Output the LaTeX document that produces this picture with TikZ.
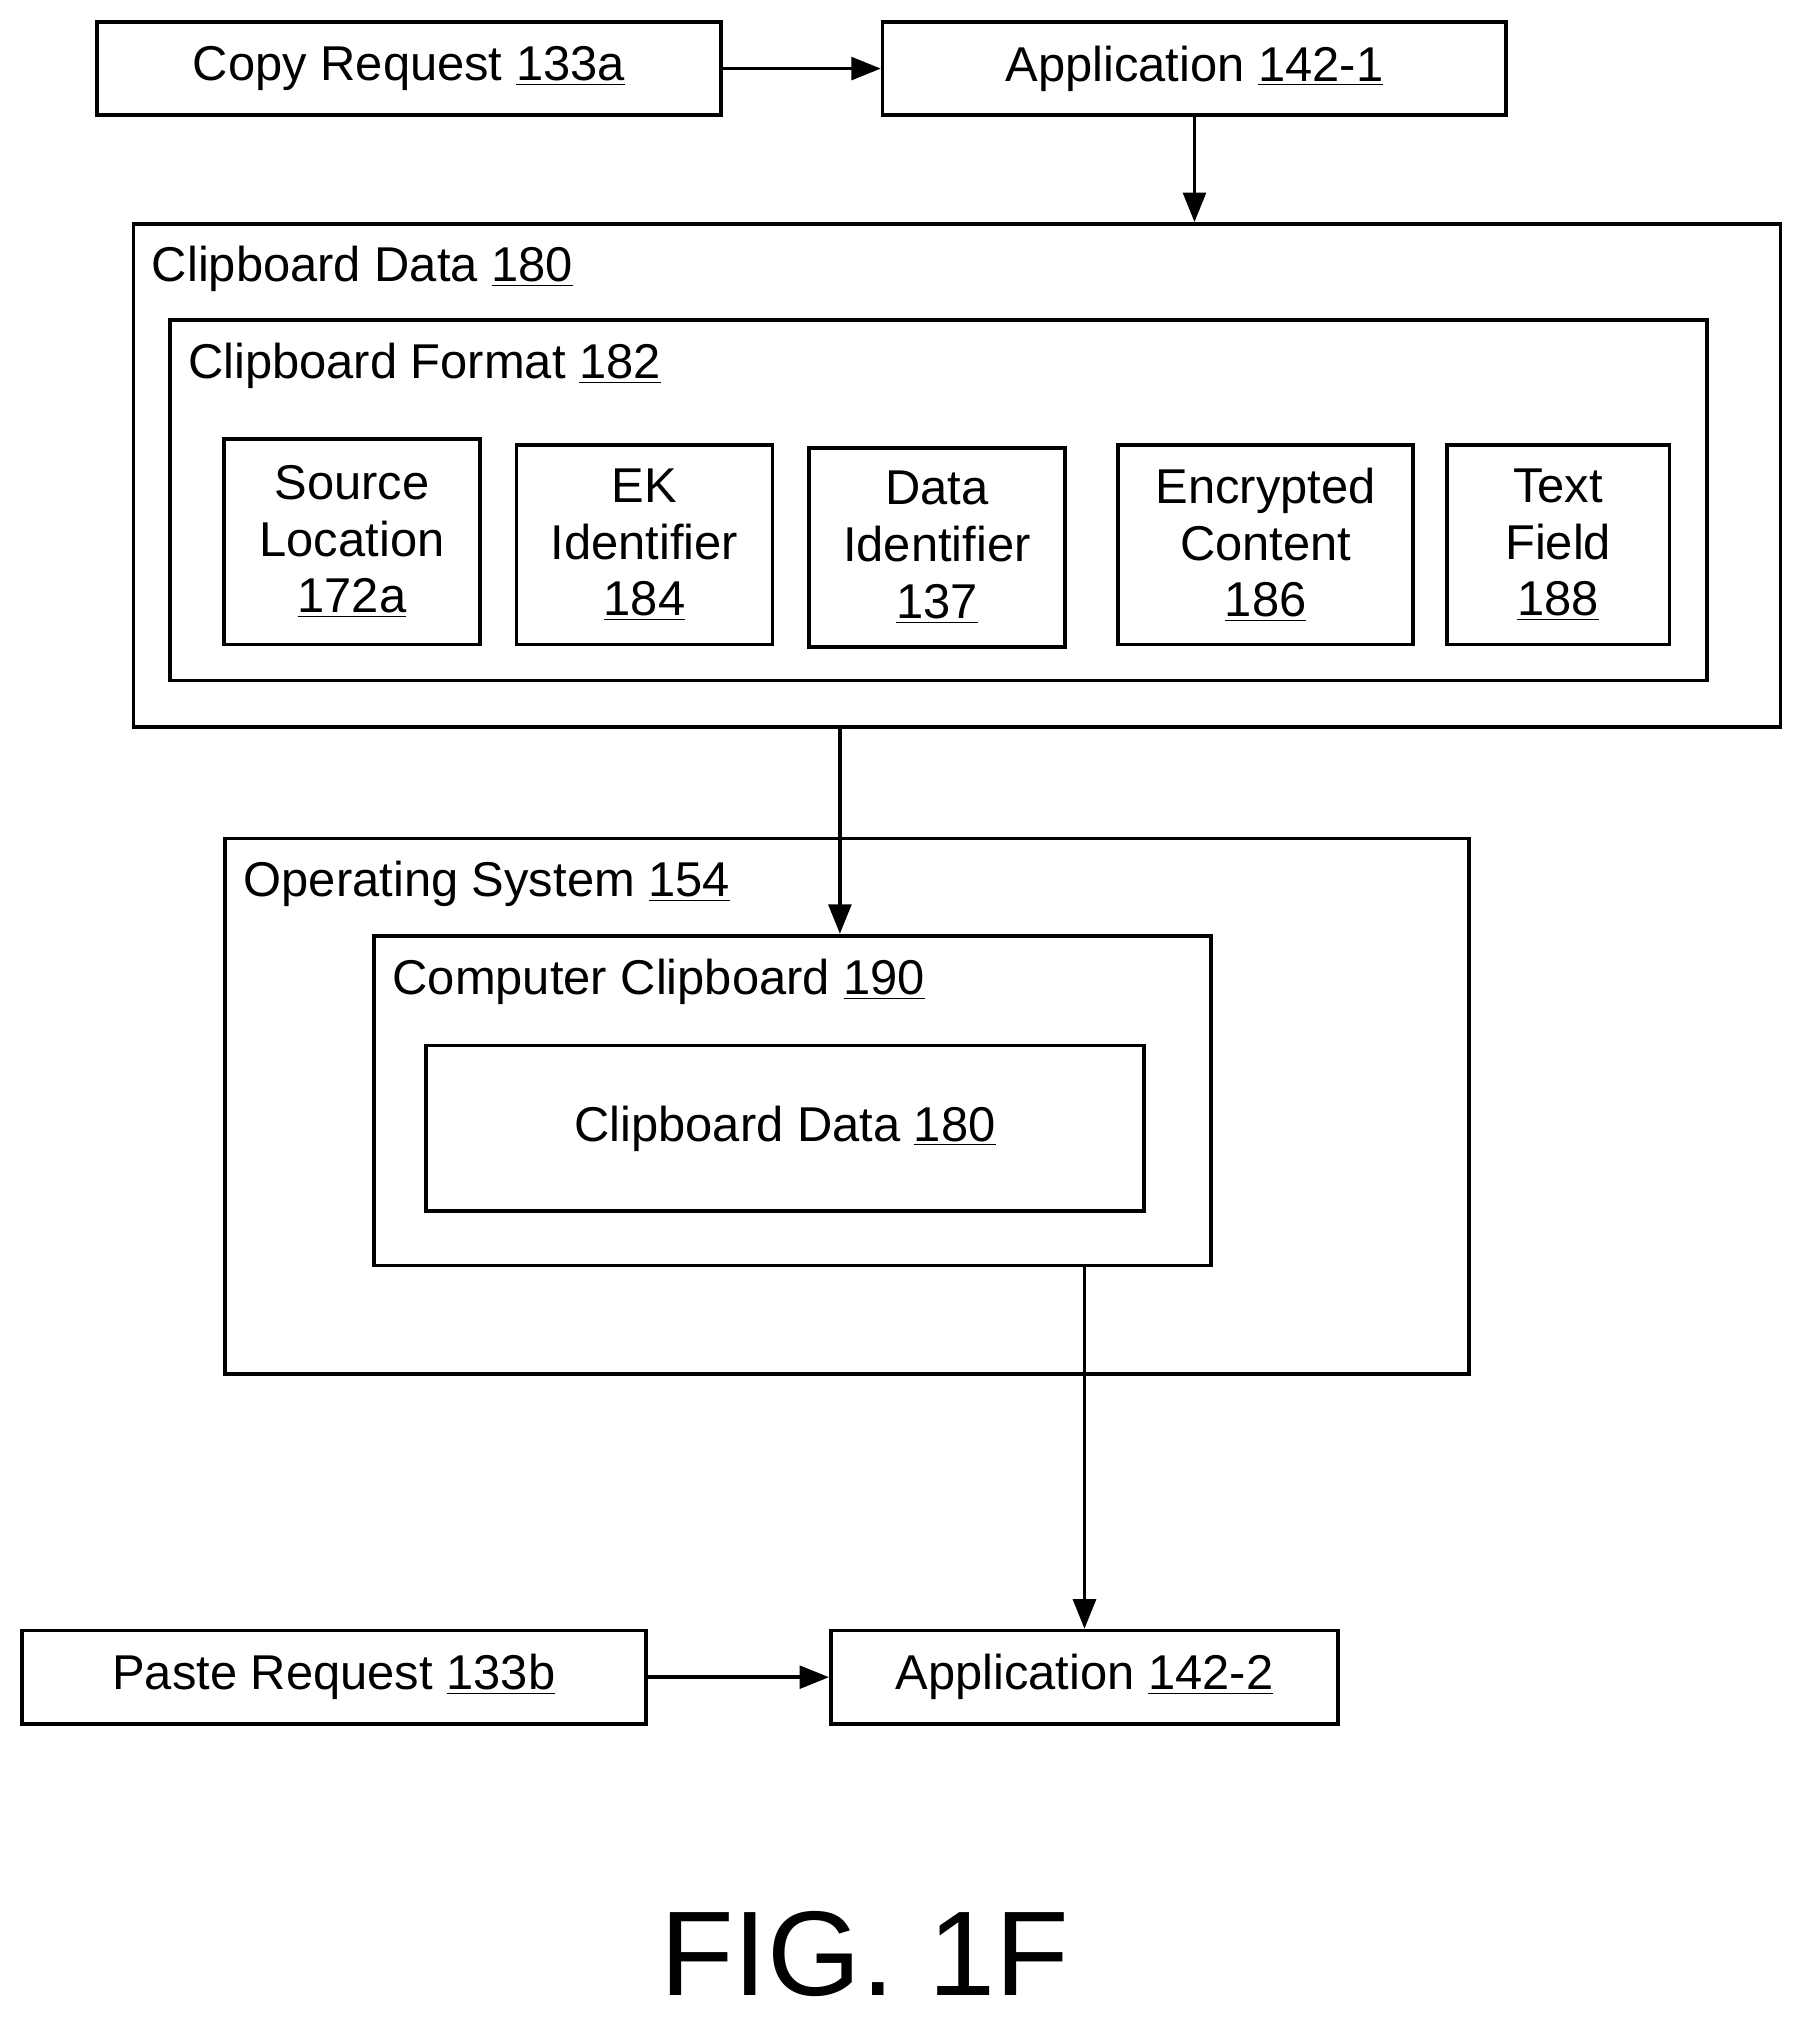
\documentclass[tikz,border=0pt]{standalone}
\usepackage{fontspec}
\setmainfont{Liberation Sans}
\usetikzlibrary{arrows.meta, positioning}
\newcommand{\refnum}[1]{\underline{#1}}
\begin{document}
\begin{tikzpicture}[x=0.02cm, y=-0.02cm,
    box/.style={rectangle, draw, line width=1.6pt, inner sep=0pt, font=\fontsize{21.5}{24}\selectfont},
    field/.style={box, align=center, font=\fontsize{21.5}{25}\selectfont},
    title/.style={anchor=north west, inner sep=0pt, font=\fontsize{21.5}{24}\selectfont},
    arr/.style={line width=1.6pt, -{Triangle[length=13pt, width=10pt]}}
  ]
  \useasboundingbox (0,0) rectangle (1390,1564);
  % Requests and applications
  \node[box, minimum width=9.64cm, minimum height=1.44cm] (copy) at (316,53) {Copy Request \refnum{133a}};
  \node[box, minimum width=9.64cm, minimum height=1.44cm] (app1) at (923,53) {Application \refnum{142-1}};
  \node[box, minimum width=9.64cm, minimum height=1.44cm] (paste) at (258,1296) {Paste Request \refnum{133b}};
  \node[box, minimum width=7.84cm, minimum height=1.44cm] (app2) at (838,1296) {Application \refnum{142-2}};

  % Clipboard data
  \node[box, minimum width=25.46cm, minimum height=7.78cm] (cbdata) at (739.5,367.5) {};
  \node[title] (cbdatal) at (117,190) {Clipboard Data \refnum{180}};
  \node[box, minimum width=23.76cm, minimum height=5.58cm] (cbfmt) at (725,386.5) {};
  \node[title] (cbfmtl) at (145,265) {Clipboard Format \refnum{182}};

  % Fields
  \node[field, minimum width=3.96cm, minimum height=3.18cm] (src) at (272,418.5) {Source\\Location\\\refnum{172a}};
  \node[field, minimum width=3.96cm, minimum height=3.08cm] (ek) at (498,421) {EK\\Identifier\\\refnum{184}};
  \node[field, minimum width=3.96cm, minimum height=3.08cm] (did) at (724,423) {Data\\Identifier\\\refnum{137}};
  \node[field, minimum width=4.56cm, minimum height=3.08cm] (enc) at (978,421) {Encrypted\\Content\\\refnum{186}};
  \node[field, minimum width=3.44cm, minimum height=3.08cm] (txt) at (1204,421) {Text\\Field\\\refnum{188}};

  % Operating system
  \node[box, minimum width=19.22cm, minimum height=8.28cm] (os) at (654.5,855) {};
  \node[title] (osl) at (188,665) {Operating System \refnum{154}};
  \node[box, minimum width=12.94cm, minimum height=5.10cm] (ccb) at (612.5,850.5) {};
  \node[title] (ccbl) at (303,741) {Computer Clipboard \refnum{190}};
  \node[box, minimum width=11.10cm, minimum height=2.56cm] (cbin) at (606.5,872) {Clipboard Data \refnum{180}};

  % Arrows
  \draw[arr] (copy.east) -- (app1.west);
  \draw[arr] (app1.south) -- (app1.south |- cbdata.north);
  \draw[arr] (cbdata.south -| 649,0) -- (ccb.north -| 649,0);
  \draw[arr] (ccb.south -| app2.north) -- (app2.north);
  \draw[arr] (paste.east) -- (app2.west);

  \node[font=\fontsize{53}{58}\selectfont] (fig) at (668,1510) {FIG. 1F};
\end{tikzpicture}
\end{document}
